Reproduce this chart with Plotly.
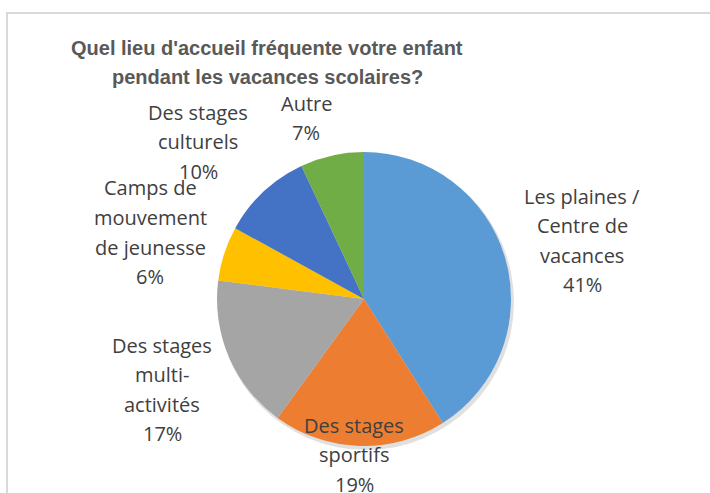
import plotly.graph_objects as go

W, H = 710, 493

# ---- data ----
categories = ["Les plaines /<br>Centre de<br>vacances",
              "Des stages<br>sportifs",
              "Des stages<br>multi-<br>activités",
              "Camps de<br>mouvement<br>de jeunesse",
              "Des stages<br>culturels",
              "Autre"]
values = [41, 19, 17, 6, 10, 7]
colors = ["#5b9bd5", "#ed7d31", "#a5a5a5", "#ffc000", "#4472c4", "#70ad47"]
title_lines = ["Quel lieu d'accueil fréquente votre enfant",
               "pendant les vacances scolaires?"]

# label block anchor (pixel centre x, first line centre y)
label_pos = [(582, 196), (354, 425), (162, 345), (150, 188), (198, 112), (306, 103)]
LINE = 29.5

cx, cy, r = 364, 299, 147

fig = go.Figure()
fig.add_trace(go.Pie(
    labels=[c.replace("<br>", " ") for c in categories],
    values=values,
    sort=False,
    direction="clockwise",
    rotation=0,
    marker=dict(colors=colors, line=dict(width=0)),
    textinfo="none",
    hoverinfo="label+percent",
    showlegend=False,
    domain=dict(x=[(cx - r) / W, (cx + r) / W],
                y=[(H - cy - r) / H, (H - cy + r) / H]),
))

def px(x):
    return x / W

def py(y):
    return 1 - y / H

ann = []
for cat, v, (x, y) in zip(categories, values, label_pos):
    lines = cat.split("<br>") + [f"{v}%"]
    for i, t in enumerate(lines):
        ann.append(dict(x=px(x), y=py(y + i * LINE), xref="paper", yref="paper",
                        text=t, showarrow=False, xanchor="center", yanchor="middle",
                        font=dict(family="Open Sans", size=20, color="#404040")))

for i, t in enumerate(title_lines):
    ann.append(dict(x=px(267), y=py(48 + i * 29), xref="paper", yref="paper",
                    text=f"<b>{t}</b>", showarrow=False, xanchor="center", yanchor="middle",
                    font=dict(family="Liberation Sans Narrow, Arial Narrow, Liberation Sans",
                              size=20, color="#595959")))

shapes = [
    dict(type="circle", xref="paper", yref="paper", layer="below",
         x0=px(cx - r + 1), x1=px(cx + r + 3), y0=py(cy + r + 4), y1=py(cy - r + 2),
         fillcolor="rgba(0,0,0,0.12)", line=dict(width=0)),
    dict(type="rect", xref="paper", yref="paper",
         x0=px(7), x1=px(730), y0=py(520), y1=py(13),
         line=dict(color="#d9d9d9", width=2), fillcolor="rgba(0,0,0,0)"),
]

fig.update_layout(
    width=W, height=H,
    margin=dict(l=0, r=0, t=0, b=0),
    paper_bgcolor="white", plot_bgcolor="white",
    annotations=ann, shapes=shapes,
)

fig.write_html("out.html", config={"displayModeBar": False},
               post_script="document.body.style.margin='0';document.body.style.overflow='hidden';")
